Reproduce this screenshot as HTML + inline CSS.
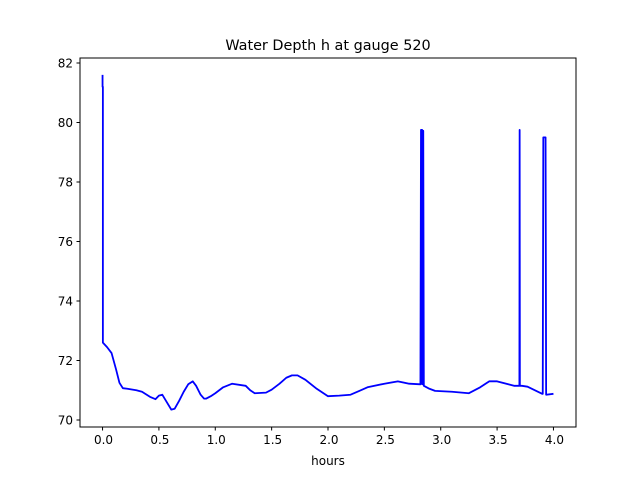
<!DOCTYPE html>
<html><head><meta charset="utf-8"><style>
html,body{margin:0;padding:0;background:#fff;}
svg{display:block;font-family:"DejaVu Sans","Liberation Sans",sans-serif;}
</style></head><body>
<svg id="chart" width="640" height="480" viewBox="0 0 640 480">
<rect width="640" height="480" fill="#fff"/>
<text x="328" y="50" text-anchor="middle" font-size="14.4">Water Depth h at gauge 520</text>
<g id="xticks"></g>
<g id="yticks"></g>
<path id="line" fill="none" stroke="#0000ff" stroke-width="1.8" stroke-linejoin="round"/>
<rect x="80" y="58" width="496" height="369" fill="none" stroke="#000" stroke-width="1"/>
<text x="328" y="465" text-anchor="middle" font-size="12">hours</text>
</svg>
<script>
const hours = [0,0,0.003,0.003,0.04,0.08,0.12,0.15,0.18,0.22,0.3,0.35,0.42,0.47,0.5,0.53,0.57,0.61,0.64,0.68,0.72,0.76,0.8,0.83,0.87,0.9,0.92,0.96,1.0,1.07,1.15,1.27,1.31,1.35,1.45,1.5,1.57,1.63,1.68,1.73,1.8,1.9,2.0,2.1,2.2,2.28,2.35,2.5,2.62,2.72,2.82,2.825,2.835,2.836,2.845,2.85,2.9,2.95,3.1,3.25,3.35,3.43,3.5,3.65,3.698,3.7,3.702,3.72,3.77,3.9,3.905,3.91,3.93,3.935,4.0];
const depth = [81.6,81.2,81.2,72.6,72.45,72.25,71.7,71.25,71.07,71.05,71.0,70.95,70.78,70.7,70.82,70.85,70.6,70.35,70.38,70.65,70.95,71.2,71.3,71.15,70.85,70.72,70.72,70.8,70.9,71.1,71.22,71.15,71.0,70.9,70.92,71.02,71.22,71.42,71.5,71.5,71.35,71.05,70.8,70.82,70.85,70.98,71.1,71.22,71.3,71.22,71.2,79.75,79.75,71.2,79.72,71.15,71.05,70.98,70.95,70.9,71.1,71.3,71.3,71.15,71.15,79.75,71.15,71.15,71.12,70.88,70.88,79.5,79.5,70.85,70.88];
const xTickLabels = ["0.0","0.5","1.0","1.5","2.0","2.5","3.0","3.5","4.0"];
const yTickLabels = ["70","72","74","76","78","80","82"];
const X0=80,X1=576,Y0=58,Y1=427,XMIN=-0.2,XMAX=4.2,YMIN=69.765,YMAX=82.168;
function sx(v){return X0+(v-XMIN)/(XMAX-XMIN)*(X1-X0);}
function sy(v){return Y1-(v-YMIN)/(YMAX-YMIN)*(Y1-Y0);}
const NS="http://www.w3.org/2000/svg";
let d="";
hours.forEach((h,i)=>{d+=(i?"L":"M")+sx(h).toFixed(2)+","+sy(depth[i]).toFixed(2);});
document.getElementById("line").setAttribute("d",d);
const gx=document.getElementById("xticks");
xTickLabels.forEach(t=>{
  const x=sx(parseFloat(t));
  const l=document.createElementNS(NS,"line");
  l.setAttribute("x1",x);l.setAttribute("x2",x);l.setAttribute("y1",Y1);l.setAttribute("y2",Y1+3.5);l.setAttribute("stroke","#000");
  
  
  gx.appendChild(l);
  const tx=document.createElementNS(NS,"text");
  tx.setAttribute("x",x+1);tx.setAttribute("y",Y1+17);tx.setAttribute("text-anchor","middle");tx.setAttribute("font-size","12");
  tx.textContent=t;
  
  
  gx.appendChild(tx);
});
const gy=document.getElementById("yticks");
yTickLabels.forEach(t=>{
  const y=sy(parseFloat(t));
  const l=document.createElementNS(NS,"line");
  l.setAttribute("x1",X0-3.5);l.setAttribute("x2",X0);l.setAttribute("y1",y);l.setAttribute("y2",y);l.setAttribute("stroke","#000");
  
  
  gy.appendChild(l);
  const tx=document.createElementNS(NS,"text");
  tx.setAttribute("x",X0-7);tx.setAttribute("y",y+4.5);tx.setAttribute("text-anchor","end");tx.setAttribute("font-size","12");
  tx.textContent=t;
  
  
  gy.appendChild(tx);
});
</script>
</body></html>
